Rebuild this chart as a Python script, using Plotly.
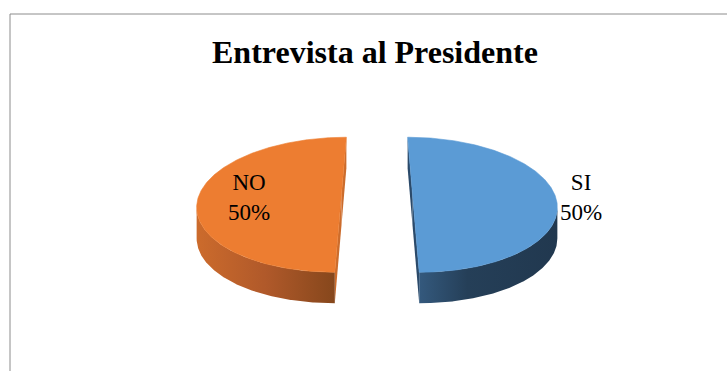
import numpy as np
import plotly.graph_objects as go

# ---- data ----
categories = ["SI", "NO"]
values = [50, 50]
title_text = "Entrevista al Presidente"

# ---- style ----
top_colors = ["#5B9BD5", "#ED7D31"]
cut_colors = ["#2B4A6A", "#CC6C2C"]
side_scales = [
    [[0, "#34597D"], [0.35, "#253F58"], [1, "#21384F"]],
    [[0, "#CC6B2C"], [0.5, "#B0592A"], [1, "#86471C"]],
]
label_radius = [1.19, 0.65]
W, H = 727, 371
CX, CY = 377, 194          # projected pie centre (px)
A, B = 142, 65.8           # ellipse semi-axes (px)
K = 0.159                  # perspective factor
DEPTH = 31                 # thickness (px)
EXPLODE = 0.25             # explode distance (radius units)
FONT = "Liberation Serif"


def proj(u, v, h=0.0):
    u = np.asarray(u, float)
    v = np.asarray(v, float)
    w = 1 + K * v
    return CX + A * u / w, CY - B * v / w + h


total = float(sum(values))
fig = go.Figure()

cum = 0.0
slices = []
for i, (cat, val) in enumerate(zip(categories, values)):
    t1 = 90 - 360 * cum / total
    cum += val
    t2 = 90 - 360 * cum / total
    tm = (t1 + t2) / 2
    ou = EXPLODE * np.cos(np.radians(tm))
    ov = EXPLODE * np.sin(np.radians(tm))
    slices.append((cat, val, t1, t2, tm, ou, ov))

# silhouette angles (left/right extremes of cylinder) for each slice
def silhouettes(ou, ov):
    th = np.linspace(-180, 0, 721)
    x, _ = proj(ou + np.cos(np.radians(th)), ov + np.sin(np.radians(th)))
    return th[np.argmin(x)], th[np.argmax(x)]

# cut faces (drawn first)
for i, (cat, val, t1, t2, tm, ou, ov) in enumerate(slices):
    for t in (t1, t2):
        pu = [ou, ou + np.cos(np.radians(t)), ou + np.cos(np.radians(t)), ou]
        pv = [ov, ov + np.sin(np.radians(t)), ov + np.sin(np.radians(t)), ov]
        hh = [0, 0, DEPTH, DEPTH]
        xs, ys = zip(*[proj(a, b, c) for a, b, c in zip(pu, pv, hh)])
        fig.add_trace(go.Scatter(x=list(xs) + [xs[0]], y=list(ys) + [ys[0]],
                                 fill="toself", fillcolor=cut_colors[i],
                                 line=dict(width=0), mode="lines",
                                 hoverinfo="skip", showlegend=False))

# outer sides
for i, (cat, val, t1, t2, tm, ou, ov) in enumerate(slices):
    tl, tr = silhouettes(ou, ov)
    best = None
    for s in (-360, 0, 360):
        lo, hi = max(t2, tl + s), min(t1, tr + s)
        if hi > lo:
            best = (lo, hi)
    if best is None:
        continue
    th = np.linspace(best[0], best[1], 200)
    u = ou + np.cos(np.radians(th))
    v = ov + np.sin(np.radians(th))
    xt, yt = proj(u, v)
    xb, yb = proj(u, v, DEPTH)
    xs = np.concatenate([xt, xb[::-1], xt[:1]])
    ys = np.concatenate([yt, yb[::-1], yt[:1]])
    fig.add_trace(go.Scatter(x=xs, y=ys, fill="toself",
                             fillgradient=dict(type="horizontal",
                                               colorscale=side_scales[i]),
                             line=dict(width=0), mode="lines",
                             hoverinfo="skip", showlegend=False))

# top faces
for i, (cat, val, t1, t2, tm, ou, ov) in enumerate(slices):
    th = np.linspace(t1, t2, 300)
    u = np.concatenate([[ou], ou + np.cos(np.radians(th)), [ou]])
    v = np.concatenate([[ov], ov + np.sin(np.radians(th)), [ov]])
    xs, ys = proj(u, v)
    fig.add_trace(go.Scatter(x=xs, y=ys, fill="toself", fillcolor=top_colors[i],
                             line=dict(width=0.6, color=top_colors[i]),
                             mode="lines", name=cat,
                             hoverinfo="skip", showlegend=False))

# labels
for i, (cat, val, t1, t2, tm, ou, ov) in enumerate(slices):
    r = label_radius[i]
    lx, ly = proj(ou + r * np.cos(np.radians(tm)), ov + r * np.sin(np.radians(tm)))
    pct = round(100 * val / total)
    fig.add_annotation(x=float(lx), y=float(ly) + 3, text=f"{cat}<br>{pct}%",
                       showarrow=False, xanchor="center", yanchor="middle",
                       font=dict(family=FONT, size=23, color="#000000"))

fig.add_annotation(x=375, y=52, text=f"<b>{title_text}</b>", showarrow=False,
                   xanchor="center", yanchor="middle",
                   font=dict(family=FONT, size=32, color="#000000"))

fig.add_shape(type="rect", xref="paper", yref="paper",
              x0=10 / W, x1=1.05, y0=-0.05, y1=1 - 14 / H,
              line=dict(color="#8C8C8C", width=1), layer="below")

fig.update_layout(
    width=W, height=H, margin=dict(l=0, r=0, t=0, b=0),
    paper_bgcolor="white", plot_bgcolor="white",
    xaxis=dict(range=[0, W], visible=False, fixedrange=True),
    yaxis=dict(range=[H, 0], visible=False, fixedrange=True),
    showlegend=False,
)

fig.write_html("out.html")
